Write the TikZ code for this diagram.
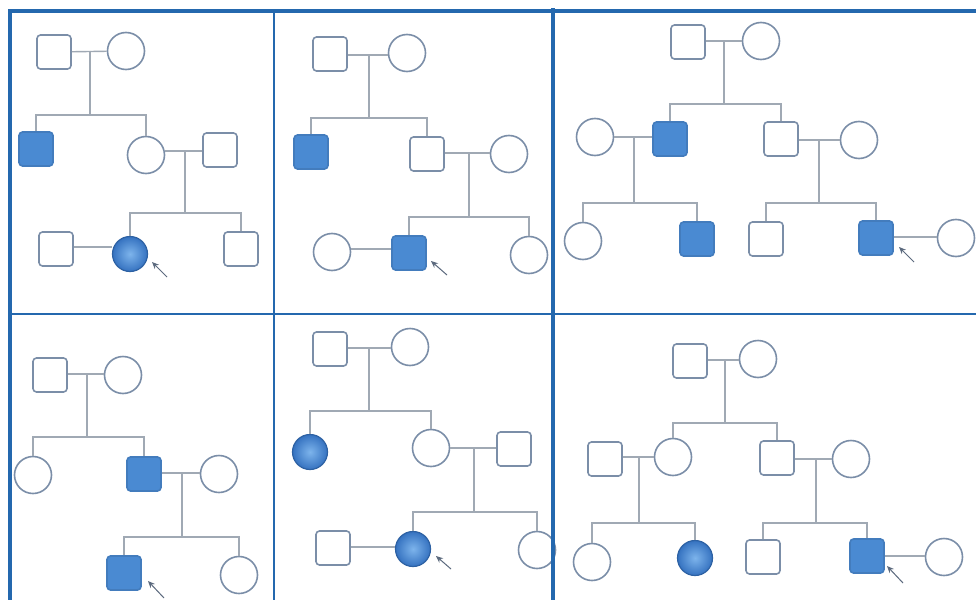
\documentclass[tikz,border=0pt]{standalone}
\usetikzlibrary{arrows.meta}
\definecolor{edgec}{HTML}{7B8EA8}
\definecolor{linec}{HTML}{A0A9B4}
\definecolor{fillc}{HTML}{4A8AD2}
\definecolor{framec}{HTML}{2468AE}
\definecolor{ballin}{HTML}{7DB4EC}
\definecolor{ballout}{HTML}{3572C0}
\tikzset{
  male/.style={draw=edgec, line width=1.6pt, rounded corners=3.5pt, minimum size=34pt, inner sep=0pt, fill=white},
  female/.style={circle, draw=edgec, line width=1.6pt, minimum size=37pt, inner sep=0pt, fill=white},
  amale/.style={male, fill=fillc, draw=fillc!90!black},
  afemale/.style={circle, draw=ballout!85!black, line width=1.2pt, minimum size=35pt, inner sep=0pt, inner color=ballin, outer color=ballout},
  rel/.style={draw=linec, line width=1.4pt},
  probar/.style={draw=edgec!75!black, line width=1pt, -{Stealth[length=7pt,width=6pt]}},
  frame/.style={draw=framec, line cap=rect},
}
\begin{document}
\begin{tikzpicture}[x=1pt,y=-1pt]
\useasboundingbox (0,0) rectangle (976,599);
\fill[white] (0,0) rectangle (976,599);

% ---------- Panel 1 ----------
\node[male] (p1a) at (54,52) {};
\node[female] (p1b) at (126,51) {};
\node[amale] (p1c) at (36,149) {};
\node[female] (p1d) at (146,155) {};
\node[male] (p1e) at (220,150) {};
\node[male] (p1f) at (56,249) {};
\node[afemale] (p1g) at (130,254) {};
\node[male] (p1h) at (241,249) {};
\coordinate (p1m1) at (90,51);
\coordinate (p1m2) at (185,151);
\draw[rel] (p1a) -- (p1b);
\draw[rel] (p1m1) -- (90,115);
\draw[rel] (p1c.north) |- (90,115) -| (p1d.north);
\draw[rel] (p1d.east |- p1m2) -- (p1e.west |- p1m2);
\draw[rel] (p1m2) -- (185,213);
\draw[rel] (p1g.north) |- (185,213) -| (p1h.north);
\draw[rel] (p1f.east |- 0,247) -- (p1g.west |- 0,247);
\coordinate (p1ar) at (167,277);
\draw[probar] (p1ar) -- (152,262);

% ---------- Panel 2 ----------
\node[male] (p2a) at (330,54) {};
\node[female] (p2b) at (407,53) {};
\node[amale] (p2c) at (311,152) {};
\node[male] (p2d) at (427,154) {};
\node[female] (p2e) at (509,154) {};
\node[female] (p2f) at (332,252) {};
\node[amale] (p2g) at (409,253) {};
\node[female] (p2h) at (529,255) {};
\coordinate (p2m1) at (369,55);
\coordinate (p2m2) at (469,153);
\draw[rel] (p2a.east |- p2m1) -- (p2b.west |- p2m1);
\draw[rel] (p2m1) -- (369,118);
\draw[rel] (p2c.north) |- (369,118) -| (p2d.north);
\draw[rel] (p2d.east |- p2m2) -- (p2e.west |- p2m2);
\draw[rel] (p2m2) -- (469,217);
\draw[rel] (p2g.north) |- (469,217) -| (p2h.north);
\draw[rel] (p2f.east |- 0,249) -- (p2g.west |- 0,249);
\coordinate (p2ar) at (447,275);
\draw[probar] (p2ar) -- (431,261);

% ---------- Panel 3 ----------
\node[male] (p3a) at (688,42) {};
\node[female] (p3b) at (761,41) {};
\node[female] (p3c) at (595,137) {};
\node[amale] (p3d) at (670,139) {};
\node[male] (p3e) at (781,139) {};
\node[female] (p3f) at (859,140) {};
\node[female] (p3g) at (583,241) {};
\node[amale] (p3h) at (697,239) {};
\node[male] (p3i) at (766,239) {};
\node[amale] (p3j) at (876,238) {};
\node[female] (p3k) at (956,238) {};
\coordinate (p3m1) at (724,41);
\coordinate (p3m2) at (634,137);
\coordinate (p3m3) at (819,140);
\draw[rel] (p3a.east |- p3m1) -- (p3b.west |- p3m1);
\draw[rel] (p3m1) -- (724,104);
\draw[rel] (p3d.north) |- (724,104) -| (p3e.north);
\draw[rel] (p3c.east |- p3m2) -- (p3d.west |- p3m2);
\draw[rel] (p3m2) -- (634,203);
\draw[rel] (p3g.north) |- (634,203) -| (p3h.north);
\draw[rel] (p3e.east |- p3m3) -- (p3f.west |- p3m3);
\draw[rel] (p3m3) -- (819,203);
\draw[rel] (p3i.north) |- (819,203) -| (p3j.north);
\draw[rel] (p3j.east |- 0,237) -- (p3k.west |- 0,237);
\coordinate (p3ar) at (914,262);
\draw[probar] (p3ar) -- (899,247);

% ---------- Panel 4 ----------
\node[male] (p4a) at (50,375) {};
\node[female] (p4b) at (123,375) {};
\node[female] (p4c) at (33,475) {};
\node[amale] (p4d) at (144,474) {};
\node[female] (p4e) at (219,474) {};
\node[amale] (p4f) at (124,573) {};
\node[female] (p4g) at (239,575) {};
\coordinate (p4m1) at (87,374);
\coordinate (p4m2) at (182,473);
\draw[rel] (p4a.east |- p4m1) -- (p4b.west |- p4m1);
\draw[rel] (p4m1) -- (87,437);
\draw[rel] (p4c.north) |- (87,437) -| (p4d.north);
\draw[rel] (p4d.east |- p4m2) -- (p4e.west |- p4m2);
\draw[rel] (p4m2) -- (182,537);
\draw[rel] (p4f.north) |- (182,537) -| (p4g.north);
\coordinate (p4ar) at (164,598);
\draw[probar] (p4ar) -- (148,581);

% ---------- Panel 5 ----------
\node[male] (p5a) at (330,349) {};
\node[female] (p5b) at (410,347) {};
\node[afemale] (p5c) at (310,452) {};
\node[female] (p5d) at (431,448) {};
\node[male] (p5e) at (514,449) {};
\node[male] (p5f) at (333,548) {};
\node[afemale] (p5g) at (413,549) {};
\node[female] (p5h) at (537,550) {};
\coordinate (p5m1) at (369,348);
\coordinate (p5m2) at (474,448);
\draw[rel] (p5a.east |- p5m1) -- (p5b.west |- p5m1);
\draw[rel] (p5m1) -- (369,411);
\draw[rel] (p5c.north) |- (369,411) -| (p5d.north);
\draw[rel] (p5d.east |- p5m2) -- (p5e.west |- p5m2);
\draw[rel] (p5m2) -- (474,512);
\draw[rel] (p5g.north) |- (474,512) -| (p5h.north);
\draw[rel] (p5f.east |- 0,547) -- (p5g.west |- 0,547);
\coordinate (p5ar) at (451,569);
\draw[probar] (p5ar) -- (436,556);

% ---------- Panel 6 ----------
\node[male] (p6a) at (690,361) {};
\node[female] (p6b) at (758,359) {};
\node[male] (p6c) at (605,459) {};
\node[female] (p6d) at (673,457) {};
\node[male] (p6e) at (777,458) {};
\node[female] (p6f) at (851,459) {};
\node[female] (p6g) at (592,562) {};
\node[afemale] (p6h) at (695,558) {};
\node[male] (p6i) at (763,557) {};
\node[amale] (p6j) at (867,556) {};
\node[female] (p6k) at (944,557) {};
\coordinate (p6m1) at (725,360);
\coordinate (p6m2) at (639,457);
\coordinate (p6m3) at (816,459);
\draw[rel] (p6a.east |- p6m1) -- (p6b.west |- p6m1);
\draw[rel] (p6m1) -- (725,423);
\draw[rel] (p6d.north) |- (725,423) -| (p6e.north);
\draw[rel] (p6c.east |- p6m2) -- (p6d.west |- p6m2);
\draw[rel] (p6m2) -- (639,523);
\draw[rel] (p6g.north) |- (639,523) -| (p6h.north);
\draw[rel] (p6e.east |- p6m3) -- (p6f.west |- p6m3);
\draw[rel] (p6m3) -- (816,523);
\draw[rel] (p6i.north) |- (816,523) -| (p6j.north);
\draw[rel] (p6j.east |- 0,556) -- (p6k.west |- 0,556);
\coordinate (p6ar) at (903,583);
\draw[probar] (p6ar) -- (887,566);

% ---------- Frame ----------
\draw[frame, line width=2pt] (10,314) -- (976,314);
\draw[frame, line width=2pt] (274,10) -- (274,599);
\draw[frame, line width=3.5pt] (553,10) -- (553,599);
\draw[frame, line width=4pt] (10,599) -- (10,11.5) -- (976,11.5);
\end{tikzpicture}
\end{document}
